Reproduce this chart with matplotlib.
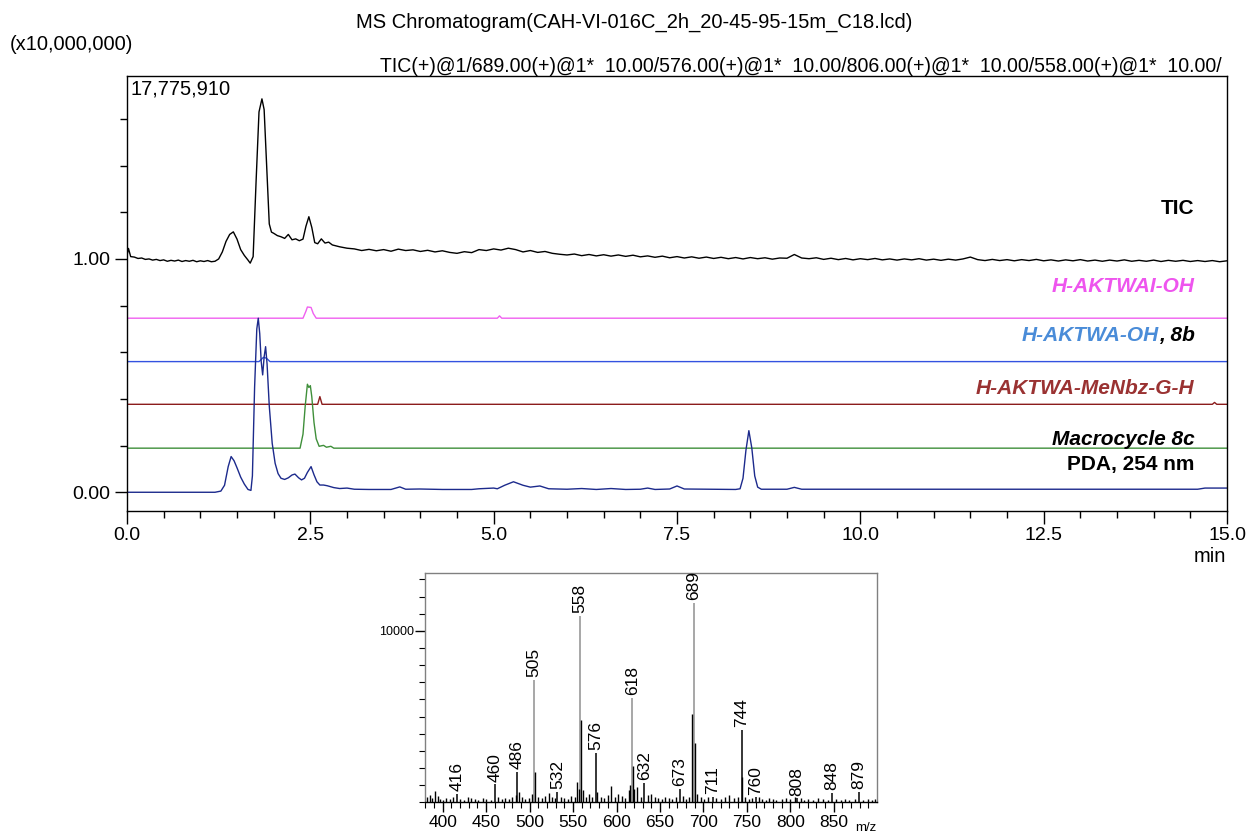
import numpy as np
import matplotlib
matplotlib.use("Agg")
import matplotlib.pyplot as plt
from matplotlib.ticker import MultipleLocator, FixedLocator, FormatStrFormatter

plt.rcParams['font.family'] = ['Liberation Sans', 'DejaVu Sans']

# ---------------- data: chromatogram traces (time in min, intensity x10,000,000) -------------
tic_t_early = [0.00, 0.02, 0.05, 0.10, 0.15, 0.20, 0.25, 0.30, 0.35, 0.40, 0.45, 0.50, 0.55, 0.60,
               0.65, 0.70, 0.75, 0.80, 0.85, 0.90, 0.95, 1.00, 1.05, 1.10, 1.15, 1.20, 1.25, 1.30,
               1.35, 1.40, 1.45, 1.50, 1.55, 1.60, 1.65, 1.68, 1.72, 1.76, 1.80, 1.84, 1.87, 1.90,
               1.94, 1.97, 2.00, 2.05, 2.10, 2.15, 2.20, 2.25, 2.30, 2.35, 2.40, 2.44, 2.48, 2.52,
               2.56, 2.60, 2.65, 2.70, 2.75]
tic_v_early = [1.015, 1.045, 1.010, 1.008, 1.002, 1.004, 0.998, 1.000, 0.995, 0.998, 0.993, 0.996,
               0.990, 0.994, 0.991, 0.995, 0.989, 0.993, 0.990, 0.994, 0.988, 0.992, 0.989, 0.993,
               0.988, 0.990, 1.000, 1.030, 1.075, 1.105, 1.116, 1.085, 1.040, 1.015, 0.995, 0.982,
               1.010, 1.330, 1.630, 1.686, 1.640, 1.430, 1.150, 1.115, 1.110, 1.100, 1.095, 1.088,
               1.105, 1.082, 1.086, 1.078, 1.085, 1.140, 1.181, 1.135, 1.070, 1.065, 1.086, 1.068,
               1.072]
tic_t_late = np.round(np.arange(2.8, 15.001, 0.1), 1)
tic_v_late = [1.060, 1.052,
              1.046, 1.043, 1.036, 1.041, 1.035, 1.040, 1.033, 1.042, 1.036, 1.039,
              1.032, 1.037, 1.030, 1.035, 1.028, 1.024, 1.031, 1.027, 1.040, 1.036,
              1.043, 1.038, 1.046, 1.040, 1.030, 1.036, 1.028, 1.032, 1.024, 1.020,
              1.017, 1.021, 1.014, 1.019, 1.013, 1.018, 1.012, 1.017, 1.011, 1.016,
              1.009, 1.013, 1.007, 1.012, 1.005, 1.010, 1.004, 1.009, 1.003, 1.008,
              1.002, 1.007, 1.001, 1.006, 1.000, 1.006, 1.001, 1.005, 0.999, 1.004,
              1.003, 1.019, 1.004, 1.001, 1.005, 0.998, 1.003, 0.997, 1.002, 0.996,
              1.001, 0.997, 1.002, 0.996, 1.000, 0.995, 1.000, 0.996, 1.001, 0.995,
              0.999, 0.994, 0.999, 0.995, 1.000, 1.008, 0.997, 0.993, 0.998, 0.993,
              0.997, 0.992, 0.997, 0.993, 0.998, 0.992, 0.996, 0.991, 0.996, 0.992,
              0.997, 0.991, 0.995, 0.990, 0.995, 0.991, 0.996, 0.990, 0.994, 0.990,
              0.995, 0.989, 0.994, 0.990, 0.994, 0.989, 0.993, 0.989, 0.993, 0.988,
              0.992]

aktwai_t = [0.0, 2.40, 2.44, 2.46, 2.51, 2.54, 2.58, 5.05, 5.08, 5.11, 15.0]
aktwai_v = [0.0, 0.0, 0.030, 0.048, 0.046, 0.020, 0.0, 0.0, 0.010, 0.0, 0.0]

aktwa_t = [0.0, 1.80, 1.86, 1.90, 1.95, 15.0]
aktwa_v = [0.0, 0.0, 0.018, 0.015, 0.0, 0.0]

menbz_t = [0.0, 2.60, 2.63, 2.66, 14.80, 14.83, 14.86, 15.0]
menbz_v = [0.0, 0.0, 0.033, 0.0, 0.0, 0.008, 0.0, 0.0]

macro_t = [0.0, 2.36, 2.40, 2.43, 2.46, 2.48, 2.50, 2.52, 2.55, 2.58, 2.62, 2.68, 2.72, 2.78, 2.82, 15.0]
macro_v = [0.0, 0.0, 0.06, 0.18, 0.274, 0.26, 0.268, 0.22, 0.11, 0.04, 0.008, 0.012, 0.004, 0.008, 0.0, 0.0]

pda_t = [0.0, 1.20, 1.28, 1.33, 1.38, 1.42, 1.46, 1.50, 1.55, 1.60, 1.65, 1.69, 1.71, 1.74, 1.77,
         1.79, 1.81, 1.83, 1.85, 1.87, 1.89, 1.91, 1.94, 1.98, 2.02, 2.06, 2.10, 2.15, 2.20, 2.25,
         2.29, 2.34, 2.38, 2.42, 2.46, 2.51, 2.55, 2.59, 2.63, 2.68, 2.73, 2.82, 2.90, 3.00, 3.10,
         3.30, 3.60, 3.72, 3.80, 3.99, 4.30, 4.70, 4.80, 5.00, 5.05, 5.15, 5.27, 5.40, 5.50, 5.63,
         5.75, 6.00, 6.20, 6.40, 6.60, 6.80, 7.00, 7.10, 7.20, 7.40, 7.50, 7.60, 8.30, 8.36, 8.40,
         8.44, 8.48, 8.52, 8.56, 8.60, 8.65, 9.00, 9.10, 9.20, 14.60, 14.70, 15.00]
pda_v = [0.0, 0.0, 0.005, 0.030, 0.110, 0.153, 0.135, 0.105, 0.065, 0.035, 0.012, 0.008, 0.070,
         0.450, 0.700, 0.746, 0.680, 0.560, 0.503, 0.580, 0.624, 0.550, 0.370, 0.210, 0.124, 0.080,
         0.060, 0.055, 0.062, 0.074, 0.078, 0.062, 0.053, 0.060, 0.085, 0.110, 0.075, 0.045, 0.031,
         0.031, 0.028, 0.020, 0.016, 0.018, 0.013, 0.012, 0.012, 0.023, 0.013, 0.014, 0.012, 0.012,
         0.015, 0.018, 0.015, 0.030, 0.045, 0.030, 0.022, 0.027, 0.015, 0.013, 0.016, 0.012, 0.016,
         0.012, 0.013, 0.018, 0.012, 0.014, 0.027, 0.014, 0.012, 0.015, 0.060, 0.180, 0.264, 0.190,
         0.070, 0.022, 0.013, 0.013, 0.021, 0.013, 0.013, 0.018, 0.018]

trace_names = ["H-AKTWAI-OH", "H-AKTWA-OH", "H-AKTWA-MeNbz-G-H", "Macrocycle 8c", "PDA, 254 nm"]

# ---------------- data: mass spectrum (m/z, intensity) ----------------
label_mz = [416, 460, 486, 505, 532, 558, 576, 618, 632, 673, 689, 711, 744, 760, 808, 848, 879]
label_int = [490, 1050, 1770, 7150, 620, 10860, 2900, 6080, 1150, 780, 11640, 330, 4230, 290, 230, 550, 590]
profile_mz = [505, 558, 618, 689]          # tall peaks drawn in grey (profile)
stick_mz = [382, 385, 388, 391, 394, 397, 400, 404, 408, 412, 420, 424, 429, 433, 437, 441, 446,
            450, 455, 464, 468, 472, 476, 480, 484, 488, 491, 495, 499, 503, 506, 510, 514, 518,
            522, 526, 529, 536, 540, 544, 548, 552, 555, 557, 559, 561, 565, 568, 572, 578, 582,
            586, 590, 594, 598, 602, 606, 610, 614, 616, 619, 620, 624, 628, 636, 640, 644, 648,
            652, 656, 660, 664, 668, 676, 680, 684, 687, 690, 693, 697, 701, 705, 715, 720, 725,
            730, 735, 740, 745, 748, 752, 756, 764, 768, 772, 776, 780, 784, 790, 795, 800, 805,
            812, 816, 820, 826, 832, 838, 843, 853, 858, 863, 868, 874, 884, 889, 894, 898]
stick_int = [300, 450, 250, 680, 350, 200, 150, 250, 200, 300, 200, 150, 300, 250, 200, 150, 250,
             200, 150, 300, 200, 250, 200, 300, 400, 600, 300, 200, 250, 500, 1790, 300, 250, 350,
             550, 300, 250, 300, 250, 200, 350, 300, 1170, 800, 4820, 700, 300, 500, 300, 600, 300,
             250, 400, 950, 300, 500, 350, 250, 700, 1000, 2090, 800, 900, 300, 400, 500, 300, 250,
             200, 300, 250, 200, 300, 350, 200, 300, 5130, 3450, 500, 300, 200, 300, 250, 200, 300,
             400, 250, 300, 1460, 300, 200, 250, 300, 200, 150, 250, 200, 150, 200, 250, 200, 300,
             250, 150, 200, 150, 250, 200, 150, 200, 150, 200, 150, 200, 150, 200, 150, 200]

# ---------------- figure ----------------
W, H, DPI = 1247, 835, 100
fig = plt.figure(figsize=(W / DPI, H / DPI), dpi=DPI)

def fx(px):
    return px / W

def fy(py):
    return 1 - py / H

ax = fig.add_axes([fx(127), fy(510.7), fx(1100), (510.7 - 76) / H])

offsets = {"tic": 0.0, "aktwai": 0.746, "aktwa": 0.560, "menbz": 0.377, "macro": 0.189, "pda": 0.0}
lw = 1.0
tic_t = list(tic_t_early) + list(tic_t_late)
tic_v = list(tic_v_early) + list(tic_v_late)
ax.plot(tic_t, np.array(tic_v) + offsets["tic"], color="black", lw=lw)
ax.plot(aktwai_t, np.array(aktwai_v) + offsets["aktwai"], color="#f060f0", lw=lw)
ax.plot(aktwa_t, np.array(aktwa_v) + offsets["aktwa"], color="#3352e0", lw=lw)
ax.plot(menbz_t, np.array(menbz_v) + offsets["menbz"], color="#8b1c1c", lw=lw)
ax.plot(macro_t, np.array(macro_v) + offsets["macro"], color="#3f8f3a", lw=lw)
ax.plot(pda_t, np.array(pda_v) + offsets["pda"], color="#1c2a8c", lw=lw)

ax.set_xlim(0, 15)
ax.set_ylim(-0.079, 1.784)
ax.xaxis.set_major_locator(MultipleLocator(2.5))
ax.xaxis.set_minor_locator(MultipleLocator(0.5))
ax.xaxis.set_major_formatter(FormatStrFormatter("%.1f"))
ax.yaxis.set_major_locator(FixedLocator([0.0, 1.0]))
ax.yaxis.set_minor_locator(FixedLocator([0.2, 0.4, 0.6, 0.8, 1.2, 1.4, 1.6]))
ax.yaxis.set_major_formatter(FormatStrFormatter("%.2f"))
ax.tick_params(axis="both", which="major", direction="out", length=9, width=1, labelsize=14, pad=3)
ax.tick_params(axis="both", which="minor", direction="out", length=5, width=1)
for s in ax.spines.values():
    s.set_linewidth(1.0)
    s.set_color("black")

# right-hand trace labels
xl = 14.56
lab_fs = 15
ax.text(xl, 1.214, "TIC", ha="right", va="center", fontsize=lab_fs, fontweight="bold", color="black")
ax.text(xl, 0.881, trace_names[0], ha="right", va="center", fontsize=lab_fs, fontweight="bold",
        fontstyle="italic", color="#ee55ee")
t8b = ax.text(xl, 0.670, ", 8b", ha="right", va="center", fontsize=lab_fs, fontweight="bold",
              fontstyle="italic", color="black")
fig.canvas.draw()
w8b = t8b.get_window_extent(fig.canvas.get_renderer()).width * 72 / DPI
ax.annotate(trace_names[1], xy=(xl, 0.670), xytext=(-w8b, 0), textcoords="offset points",
            ha="right", va="center", fontsize=lab_fs, fontweight="bold", fontstyle="italic",
            color="#4a8cd8")
ax.text(xl, 0.446, trace_names[2], ha="right", va="center", fontsize=lab_fs, fontweight="bold",
        fontstyle="italic", color="#9a3232")
ax.text(xl, 0.227, trace_names[3], ha="right", va="center", fontsize=lab_fs, fontweight="bold",
        fontstyle="italic", color="black")
ax.text(xl, 0.117, trace_names[4], ha="right", va="center", fontsize=lab_fs, fontweight="bold",
        color="black")

ax.text(0.003, 0.993, "17,775,910", transform=ax.transAxes, ha="left", va="top", fontsize=14.5)

# header texts
fig.text(fx(634), fy(22), "MS Chromatogram(CAH-VI-016C_2h_20-45-95-15m_C18.lcd)", ha="center",
         va="center", fontsize=14.5)
fig.text(fx(10), fy(45), "(x10,000,000)", ha="left", va="center", fontsize=14.5)
fig.text(fx(1222), fy(66),
         "TIC(+)@1/689.00(+)@1*  10.00/576.00(+)@1*  10.00/806.00(+)@1*  10.00/558.00(+)@1*  10.00/",
         ha="right", va="center", fontsize=14.05)
fig.text(fx(1210), fy(556), "min", ha="center", va="center", fontsize=14.5)

# ---------------- inset mass spectrum ----------------
ax2 = fig.add_axes([fx(425), fy(802.3), fx(452), (802.3 - 572.5) / H])
ax2.set_xlim(379.6, 899.8)
ax2.set_ylim(0, 13400)
for m, v in zip(label_mz, label_int):
    col = "#909090" if m in profile_mz else "black"
    ax2.vlines(m, 0, v, color=col, lw=1.1)
    ax2.annotate(str(m), xy=(m, v), xytext=(0, 2), textcoords="offset points", rotation=90,
                 ha="center", va="bottom", fontsize=12.5)
ax2.vlines(stick_mz, 0, stick_int, color="black", lw=1.0)

ax2.xaxis.set_major_locator(MultipleLocator(50))
ax2.xaxis.set_minor_locator(MultipleLocator(10))
ax2.yaxis.set_major_locator(FixedLocator([10000]))
ax2.yaxis.set_minor_locator(MultipleLocator(1000))
ax2.tick_params(axis="x", which="major", direction="out", length=7, width=1, labelsize=12.5, pad=2)
ax2.tick_params(axis="x", which="minor", direction="out", length=4, width=0.8)
ax2.tick_params(axis="y", which="major", direction="out", length=7, width=1, labelsize=9, pad=1)
ax2.tick_params(axis="y", which="minor", direction="out", length=4, width=0.8)
for name, s in ax2.spines.items():
    s.set_color("#808080" if name != "bottom" else "black")
    s.set_linewidth(1.0)
fig.text(fx(866), fy(834), "m/z", ha="center", va="bottom", fontsize=9.5)

fig.savefig("out.png", dpi=DPI)
